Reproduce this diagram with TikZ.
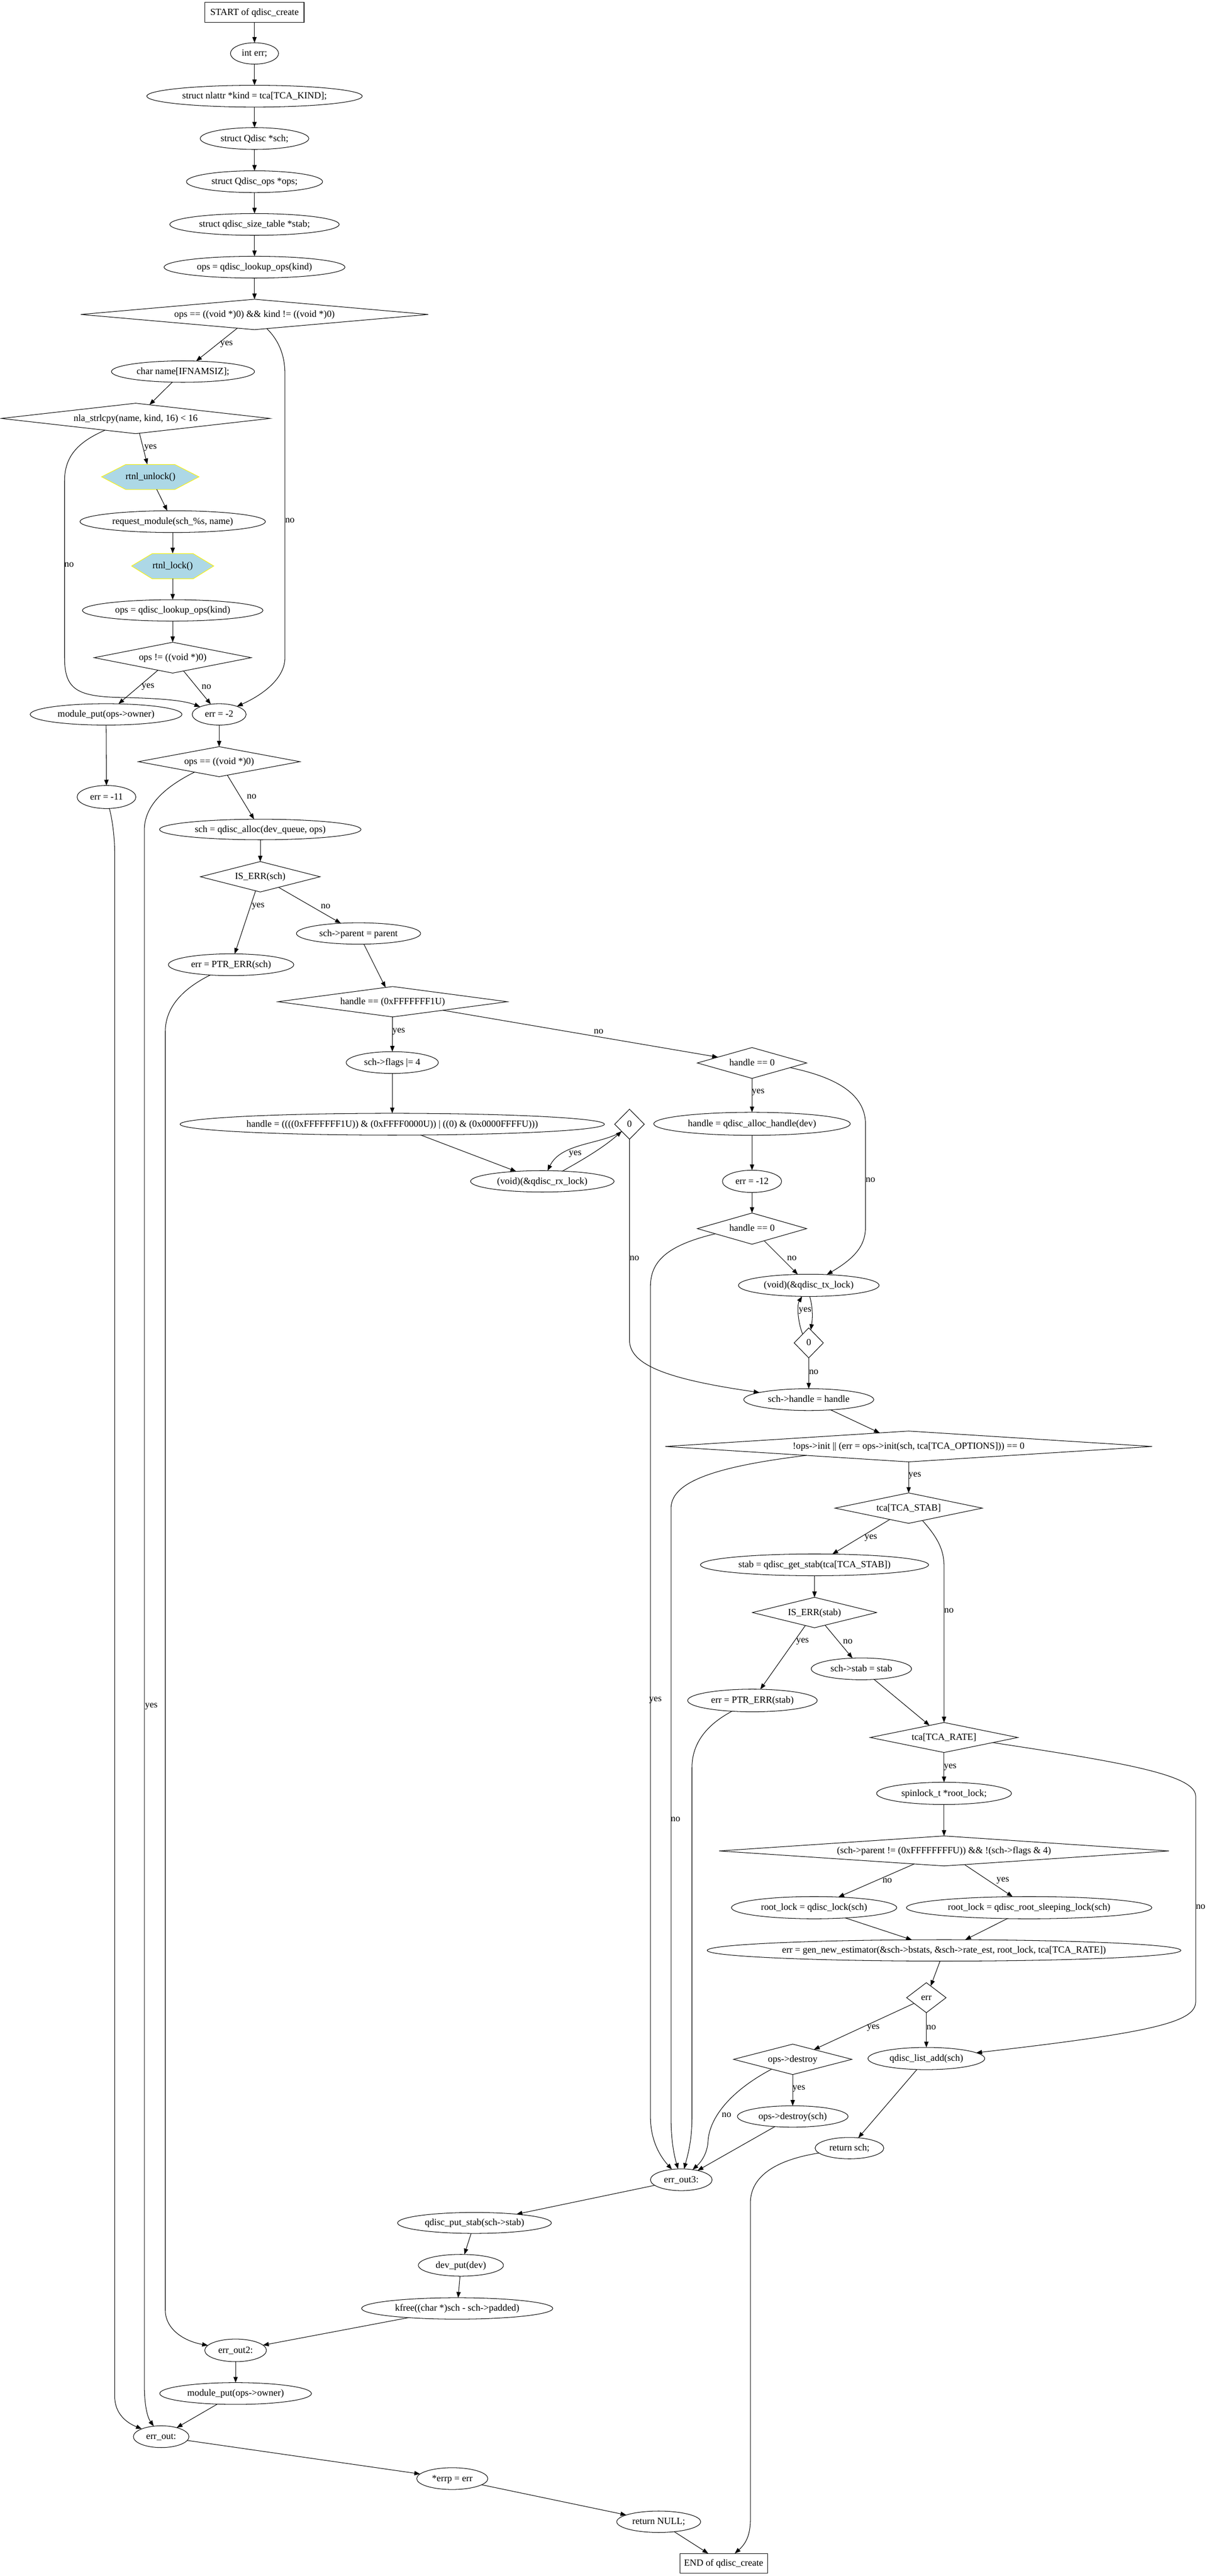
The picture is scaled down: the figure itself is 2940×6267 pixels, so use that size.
\documentclass[tikz,border=0pt]{standalone}
\usepackage{fontspec}
\setmainfont[Ligatures=NoCommon]{Liberation Serif}
\usetikzlibrary{shapes.geometric, arrows.meta}
\definecolor{hexblue}{RGB}{173,216,230}
\newcommand\tx[1]{\makebox[0pt]{\smash{\raisebox{-0.28em}{#1}}}}
\newcommand\mknode[6]{\node[#1,minimum width=#4bp,minimum height=#5bp] (#2) at (#3) {\tx{#6}};}
\tikzset{
  base/.style={draw, line width=1.3bp, inner sep=0pt, outer sep=0pt, font=\fontsize{23bp}{28bp}\selectfont},
  ell/.style={base, ellipse},
  dia/.style={base, diamond},
  boxn/.style={base, rectangle},
  hexn/.style={base, rectangle, draw=none},
  arr/.style={line width=1.3bp, -{Triangle[length=14bp,width=10.5bp]}},
  lbl/.style={font=\fontsize{23bp}{28bp}\selectfont, inner sep=0pt},
}
\begin{document}
\begin{tikzpicture}[x=1bp, y=-1bp]
\fill[white] (0,0) rectangle (2940,6267);
\useasboundingbox (0,0) rectangle (2940,6267);
% hexagon backgrounds
\draw[line width=1.3bp, draw=yellow, fill=hexblue] (247,1160) -- (306,1130) -- (425,1130) -- (484,1160) -- (425,1191) -- (306,1191) -- cycle;
\draw[line width=1.3bp, draw=yellow, fill=hexblue] (320,1377) -- (370,1347) -- (470,1347) -- (520,1377) -- (470,1408) -- (370,1408) -- cycle;
% nodes
\mknode{boxn}{start}{619,30}{241}{49}{START of qdisc\_create}
\mknode{ell}{interr}{619,130}{117}{52}{int err;}
\mknode{ell}{kind}{619,234}{524}{53}{struct nlattr *kind = tca[TCA\_KIND];}
\mknode{ell}{schdecl}{619,337}{264}{53}{struct Qdisc *sch;}
\mknode{ell}{opsdecl}{619,442}{331}{53}{struct Qdisc\_ops *ops;}
\mknode{ell}{stabdecl}{619,546}{412}{53}{struct qdisc\_size\_table *stab;}
\mknode{ell}{lookup1}{619,650}{440}{53}{ops = qdisc\_lookup\_ops(kind)}
\mknode{dia}{d1}{619,765}{845}{74}{ops == ((void *)0) \&\& kind != ((void *)0)}
\mknode{ell}{name}{445,904}{348}{52}{char name[IFNAMSIZ];}
\mknode{dia}{d2}{330,1018}{654}{74}{nla\_strlcpy(name, kind, 16) < 16}
\mknode{hexn}{unlock}{366,1160}{237}{61}{rtnl\_unlock()}
\mknode{ell}{reqmod}{420,1269}{451}{53}{request\_module(sch\_\%s, name)}
\mknode{hexn}{lock}{420,1377}{200}{61}{rtnl\_lock()}
\mknode{ell}{lookup2}{420,1485}{439}{52}{ops = qdisc\_lookup\_ops(kind)}
\mknode{dia}{d3}{420,1600}{382}{75}{ops != ((void *)0)}
\mknode{ell}{modput1}{258,1738}{369}{52}{module\_put(ops->owner)}
\mknode{ell}{errm2}{533,1738}{131}{52}{err = -2}
\mknode{dia}{d4}{533,1853}{393}{73}{ops == ((void *)0)}
\mknode{ell}{errm11}{259,1939}{143}{56}{err = -11}
\mknode{ell}{alloc}{633,2018}{490}{50}{sch = qdisc\_alloc(dev\_queue, ops)}
\mknode{dia}{iserr}{633,2133}{291}{74}{IS\_ERR(sch)}
\mknode{ell}{parent}{872,2271}{302}{52}{sch->parent = parent}
\mknode{ell}{ptrerr}{562,2347}{305}{53}{err = PTR\_ERR(sch)}
\mknode{dia}{dh}{955,2437}{558}{74}{handle == (0xFFFFFFF1U)}
\mknode{ell}{flags}{954,2585}{224}{53}{sch->flags |= 4}
\mknode{ell}{hcalc}{954,2735}{1032}{53}{handle = ((((0xFFFFFFF1U)) \& (0xFFFF0000U)) | ((0) \& (0x0000FFFFU)))}
\mknode{ell}{rxlock}{1319,2874}{349}{52}{(void)(\&qdisc\_rx\_lock)}
\mknode{dia}{z1}{1531,2735}{72}{73}{0}
\mknode{dia}{h0a}{1829,2586}{266}{75}{handle == 0}
\mknode{ell}{allochandle}{1829,2734}{478}{56}{handle = qdisc\_alloc\_handle(dev)}
\mknode{ell}{errm12}{1829,2874}{144}{54}{err = -12}
\mknode{dia}{h0b}{1829,2989}{266}{76}{handle == 0}
\mknode{ell}{txlock}{1967,3127}{342}{54}{(void)(\&qdisc\_tx\_lock)}
\mknode{dia}{z2}{1967,3267}{71}{73}{0}
\mknode{ell}{schhandle}{1967,3405}{316}{53}{sch->handle = handle}
\mknode{dia}{init}{2210,3519}{1184}{75}{!ops->init || (err = ops->init(sch, tca[TCA\_OPTIONS])) == 0}
\mknode{dia}{tcastab}{2210,3669}{358}{74}{tca[TCA\_STAB]}
\mknode{ell}{getstab}{1981,3807}{555}{53}{stab = qdisc\_get\_stab(tca[TCA\_STAB])}
\mknode{dia}{iserrstab}{1981,3923}{302}{74}{IS\_ERR(stab)}
\mknode{ell}{schstab}{2095,4060}{244}{53}{sch->stab = stab}
\mknode{ell}{ptrerrstab}{1830,4137}{315}{55}{err = PTR\_ERR(stab)}
\mknode{dia}{tcarate}{2296,4227}{359}{73}{tca[TCA\_RATE]}
\mknode{ell}{spin}{2296,4363}{328}{54}{spinlock\_t *root\_lock;}
\mknode{dia}{dparent}{2296,4503}{1094}{73}{(sch->parent != (0xFFFFFFFFU)) \&\& !(sch->flags \& 4)}
\mknode{ell}{rl1}{1980,4641}{402}{54}{root\_lock = qdisc\_lock(sch)}
\mknode{ell}{rl2}{2503,4641}{597}{54}{root\_lock = qdisc\_root\_sleeping\_lock(sch)}
\mknode{ell}{gen}{2296,4745}{1152}{52}{err = gen\_new\_estimator(\&sch->bstats, \&sch->rate\_est, root\_lock, tca[TCA\_RATE])}
\mknode{dia}{errd}{2253,4860}{96}{73}{err}
\mknode{dia}{destroy}{1928,5010}{288}{74}{ops->destroy}
\mknode{ell}{listadd}{2253,5008}{284}{54}{qdisc\_list\_add(sch)}
\mknode{ell}{destroysch}{1928,5149}{269}{52}{ops->destroy(sch)}
\mknode{ell}{retsch}{2066,5226}{167}{52}{return sch;}
\mknode{ell}{errout3}{1657,5303}{150}{53}{err\_out3:}
\mknode{ell}{putstab}{1154,5408}{374}{51}{qdisc\_put\_stab(sch->stab)}
\mknode{ell}{devput}{1121,5511}{207}{53}{dev\_put(dev)}
\mknode{ell}{kfree}{1112,5616}{465}{52}{kfree((char *)sch - sch->padded)}
\mknode{ell}{errout2}{573,5718}{150}{55}{err\_out2:}
\mknode{ell}{modput2}{573,5823}{369}{53}{module\_put(ops->owner)}
\mknode{ell}{errout}{392,5928}{135}{53}{err\_out:}
\mknode{ell}{errp}{1100,6030}{173}{53}{*errp = err}
\mknode{ell}{retnull}{1602,6135}{204}{52}{return NULL;}
\mknode{boxn}{endn}{1760,6236}{213}{48}{END of qdisc\_create}
% edges
\draw[arr] (start) -- (interr);
\draw[arr] (interr) -- (kind);
\draw[arr] (kind) -- (schdecl);
\draw[arr] (schdecl) -- (opsdecl);
\draw[arr] (opsdecl) -- (stabdecl);
\draw[arr] (stabdecl) -- (lookup1);
\draw[arr] (lookup1) -- (d1);
\draw[arr] (d1) -- (name);
\draw[arr] (d1.-49) .. controls (675,825) and (693,860) .. (693,910) -- (693,1600) .. controls (693,1650) and (640,1690) .. (errm2);
\draw[arr] (name) -- (d2);
\draw[arr] (d2) -- (unlock);
\draw[arr] (d2.201) .. controls (190,1075) and (157,1110) .. (157,1170) -- (157,1600) .. controls (157,1680) and (190,1695) .. (300,1697) .. controls (400,1699) and (450,1705) .. (errm2);
\draw[arr] (unlock) -- (reqmod);
\draw[arr] (reqmod) -- (lock);
\draw[arr] (lock) -- (lookup2);
\draw[arr] (lookup2) -- (d3);
\draw[arr] (d3) -- (modput1);
\draw[arr] (d3) -- (errm2);
\draw[arr] (modput1) -- (errm11);
\draw[arr] (errm2) -- (d4);
\draw[arr] (d4) -- (alloc);
\draw[arr] (d4.203) .. controls (400,1915) and (351,1960) .. (351,2020) -- (351,5800) .. controls (351,5850) and (358,5880) .. (errout);
\draw[arr] (errm11) .. controls (272,1990) and (279,2030) .. (279,2080) -- (279,5830) .. controls (279,5870) and (305,5893) .. (errout);
\draw[arr] (alloc) -- (iserr);
\draw[arr] (iserr) -- (ptrerr);
\draw[arr] (iserr) -- (parent);
\draw[arr] (ptrerr) .. controls (445,2405) and (402,2450) .. (402,2510) -- (402,5620) .. controls (402,5665) and (445,5695) .. (errout2);
\draw[arr] (parent) -- (dh);
\draw[arr] (dh) -- (flags);
\draw[arr] (dh) -- (h0a);
\draw[arr] (flags) -- (hcalc);
\draw[arr] (hcalc) -- (rxlock);
\draw[arr] (rxlock.27) .. controls (1420,2820) and (1470,2790) .. (z1);
\draw[arr] (z1.224) .. controls (1460,2785) and (1365,2780) .. (rxlock);
\draw[arr] (z1) -- (1531,3260) .. controls (1531,3320) and (1620,3355) .. (schhandle);
\draw[arr] (h0a) -- (allochandle);
\draw[arr] (h0a.-7) .. controls (2030,2620) and (2105,2660) .. (2105,2735) -- (2105,2985) .. controls (2105,3030) and (2080,3060) .. (txlock);
\draw[arr] (allochandle) -- (errm12);
\draw[arr] (errm12) -- (h0b);
\draw[arr] (h0b) -- (txlock);
\draw[arr] (h0b.188) .. controls (1620,3030) and (1582,3070) .. (1582,3130) -- (1582,5150) .. controls (1582,5200) and (1600,5240) .. (errout3);
\draw[arr] (txlock.-85) .. controls (1978,3185) and (1976,3210) .. (z2);
\draw[arr] (z2.125) .. controls (1940,3215) and (1938,3175) .. (txlock);
\draw[arr] (z2) -- (schhandle);
\draw[arr] (schhandle) -- (init);
\draw[arr] (init) -- (tcastab);
\draw[arr] (init.185) .. controls (1720,3570) and (1632,3610) .. (1632,3670) -- (1632,5150) .. controls (1632,5210) and (1640,5245) .. (errout3);
\draw[arr] (tcastab) -- (getstab);
\draw[arr] (tcastab.-42) .. controls (2280,3740) and (2296,3770) .. (2296,3810) -- (tcarate);
\draw[arr] (getstab) -- (iserrstab);
\draw[arr] (iserrstab) -- (ptrerrstab);
\draw[arr] (iserrstab) -- (schstab);
\draw[arr] (ptrerrstab) .. controls (1720,4195) and (1683,4240) .. (1683,4300) -- (1683,5150) .. controls (1683,5210) and (1672,5245) .. (errout3);
\draw[arr] (schstab) -- (tcarate);
\draw[arr] (tcarate) -- (spin);
\draw[arr] (tcarate.-6) .. controls (2750,4290) and (2908,4320) .. (2908,4370) -- (2908,4870) .. controls (2908,4920) and (2800,4945) .. (listadd);
\draw[arr] (spin) -- (dparent);
\draw[arr] (dparent) -- (rl1);
\draw[arr] (dparent) -- (rl2);
\draw[arr] (rl1) -- (gen);
\draw[arr] (rl2) -- (gen);
\draw[arr] (gen) -- (errd);
\draw[arr] (errd) -- (destroy);
\draw[arr] (errd) -- (listadd);
\draw[arr] (destroy) -- (destroysch);
\draw[arr] (destroy.205) .. controls (1780,5085) and (1725,5150) .. (1722,5210) .. controls (1720,5240) and (1705,5260) .. (errout3);
\draw[arr] (destroysch) -- (errout3);
\draw[arr] (listadd) -- (retsch);
\draw[arr] (retsch) .. controls (1885,5255) and (1825,5295) .. (1825,5360) -- (1825,6130) .. controls (1825,6170) and (1812,6190) .. (endn);
\draw[arr] (errout3) -- (putstab);
\draw[arr] (putstab) -- (devput);
\draw[arr] (devput) -- (kfree);
\draw[arr] (kfree) -- (errout2);
\draw[arr] (errout2) -- (modput2);
\draw[arr] (modput2) -- (errout);
\draw[arr] (errout) -- (errp);
\draw[arr] (errp) -- (retnull);
\draw[arr] (retnull) -- (endn);
% labels
\node[lbl] (l1) at (551,837) {yes};
\node[lbl] (l2) at (705,1266) {no};
\node[lbl] (l3) at (366,1090) {yes};
\node[lbl] (l4) at (168,1374) {no};
\node[lbl] (l5) at (360,1671) {yes};
\node[lbl] (l6) at (502,1671) {no};
\node[lbl] (l7) at (612,1938) {no};
\node[lbl] (l8) at (368,4152) {yes};
\node[lbl] (l9) at (628,2205) {yes};
\node[lbl] (l10) at (792,2205) {no};
\node[lbl] (l11) at (970,2509) {yes};
\node[lbl] (l12) at (1456,2509) {no};
\node[lbl] (l13) at (1399,2808) {yes};
\node[lbl] (l14) at (1543,3061) {no};
\node[lbl] (l15) at (1844,2657) {yes};
\node[lbl] (l16) at (2117,2871) {no};
\node[lbl] (l17) at (1926,3061) {no};
\node[lbl] (l18) at (1594,4136) {yes};
\node[lbl] (l19) at (1958,3189) {yes};
\node[lbl] (l20) at (1979,3338) {no};
\node[lbl] (l21) at (2225,3590) {yes};
\node[lbl] (l22) at (1643,4426) {no};
\node[lbl] (l23) at (2118,3741) {yes};
\node[lbl] (l24) at (2308,3918) {no};
\node[lbl] (l25) at (1952,3994) {yes};
\node[lbl] (l26) at (2062,3994) {no};
\node[lbl] (l27) at (2311,4299) {yes};
\node[lbl] (l28) at (2920,4639) {no};
\node[lbl] (l29) at (2158,4575) {no};
\node[lbl] (l30) at (2439,4575) {yes};
\node[lbl] (l31) at (2124,4933) {yes};
\node[lbl] (l32) at (2265,4933) {no};
\node[lbl] (l33) at (1943,5082) {yes};
\node[lbl] (l34) at (1767,5146) {no};
\end{tikzpicture}
\end{document}
